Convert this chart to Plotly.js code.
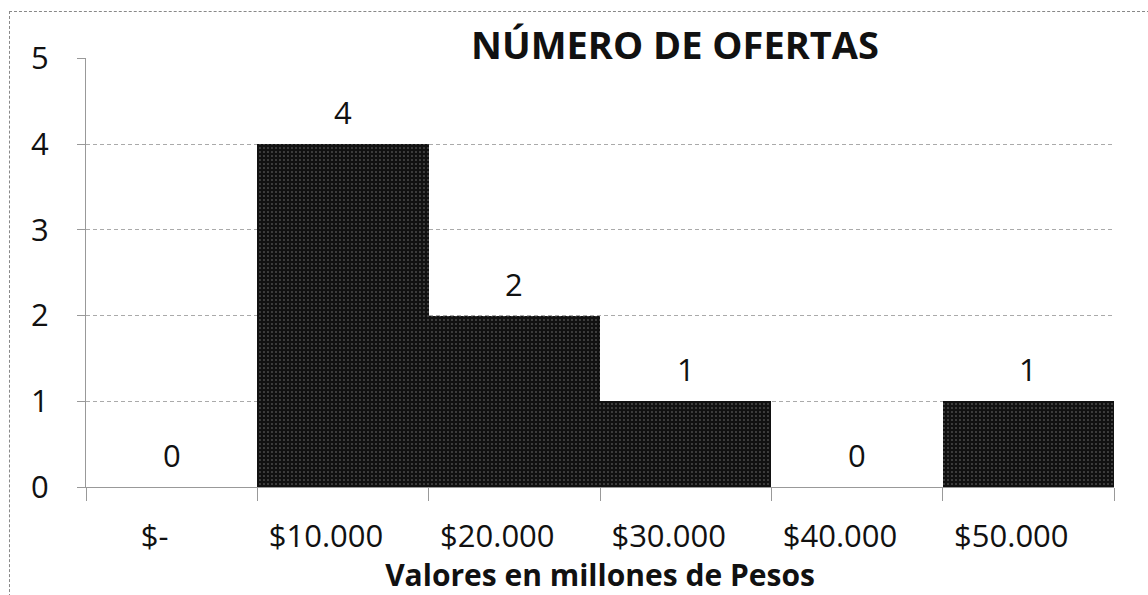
<!DOCTYPE html>
<html>
<head>
<meta charset="utf-8">
<script src="https://cdn.plot.ly/plotly-3.0.1.min.js"></script>
<style>
html,body{margin:0;padding:0;background:#fff;}
#chart{width:1148px;height:595px;position:absolute;left:0;top:0;}
#frame{position:absolute;left:9px;top:11px;width:1140px;height:600px;border-left:1px dashed #888;border-top:1px dashed #888;pointer-events:none;}
</style>
</head>
<body>
<div id="chart"></div>
<div id="frame"></div>
<script>
const categories = ["$-", "$10.000", "$20.000", "$30.000", "$40.000", "$50.000"];
const ofertas = [0, 4, 2, 1, 0, 1];
const chartTitle = "NÚMERO DE OFERTAS";
const xTitle = "Valores en millones de Pesos";
const yTicks = [0, 1, 2, 3, 4, 5];

const font = "'Open Sans', 'Liberation Sans', sans-serif";

const trace = {
  type: "bar",
  x: categories,
  y: ofertas,
  marker: {
    color: "#111111",
    line: {width: 0},
    pattern: {shape: ".", fgcolor: "#777777", bgcolor: "#111111", size: 4, solidity: 0.12}
  },
  hoverinfo: "x+y"
};

const annotations = categories.map((c, i) => ({
  x: c, y: ofertas[i], xref: "x", yref: "y",
  text: String(ofertas[i]), showarrow: false,
  yanchor: "bottom", yshift: 9,
  font: {family: font, size: 31, color: "#111"}
}));

const layout = {
  width: 1148, height: 595,
  paper_bgcolor: "#fff", plot_bgcolor: "#fff",
  margin: {l: 86, r: 34, t: 58, b: 108},
  showlegend: false,
  bargap: 0,
  title: {
    text: "<b>" + chartTitle + "</b>",
    x: 675/1148, xanchor: "center", xref: "container",
    y: 1 - 46/595, yanchor: "middle", yref: "container",
    font: {family: font, size: 38, color: "#111"}
  },
  xaxis: {
    type: "category",
    tickson: "boundaries",
    ticks: "outside", ticklen: 13, tickcolor: "#999",
    showline: true, linecolor: "#999", linewidth: 1,
    showgrid: false,
    tickfont: {family: font, size: 31, color: "#111"},
    ticklabelshift: -17,
    ticklabelstandoff: 22,
    title: {text: "<b>" + xTitle + "</b>", standoff: 4, font: {family: font, size: 30, color: "#111"}}
  },
  yaxis: {
    range: [0, 5.003],
    tickvals: yTicks,
    ticks: "outside", ticklen: 8, tickcolor: "#999",
    showline: true, linecolor: "#999", linewidth: 1,
    showgrid: true, gridcolor: "#aaa", gridwidth: 1, griddash: "4px,3px",
    zeroline: false,
    tickfont: {family: font, size: 31, color: "#111"},
    ticklabelstandoff: 22
  },
  annotations: annotations
};

Plotly.newPlot("chart", [trace], layout, {displayModeBar: false, staticPlot: true});
</script>
</body>
</html>
